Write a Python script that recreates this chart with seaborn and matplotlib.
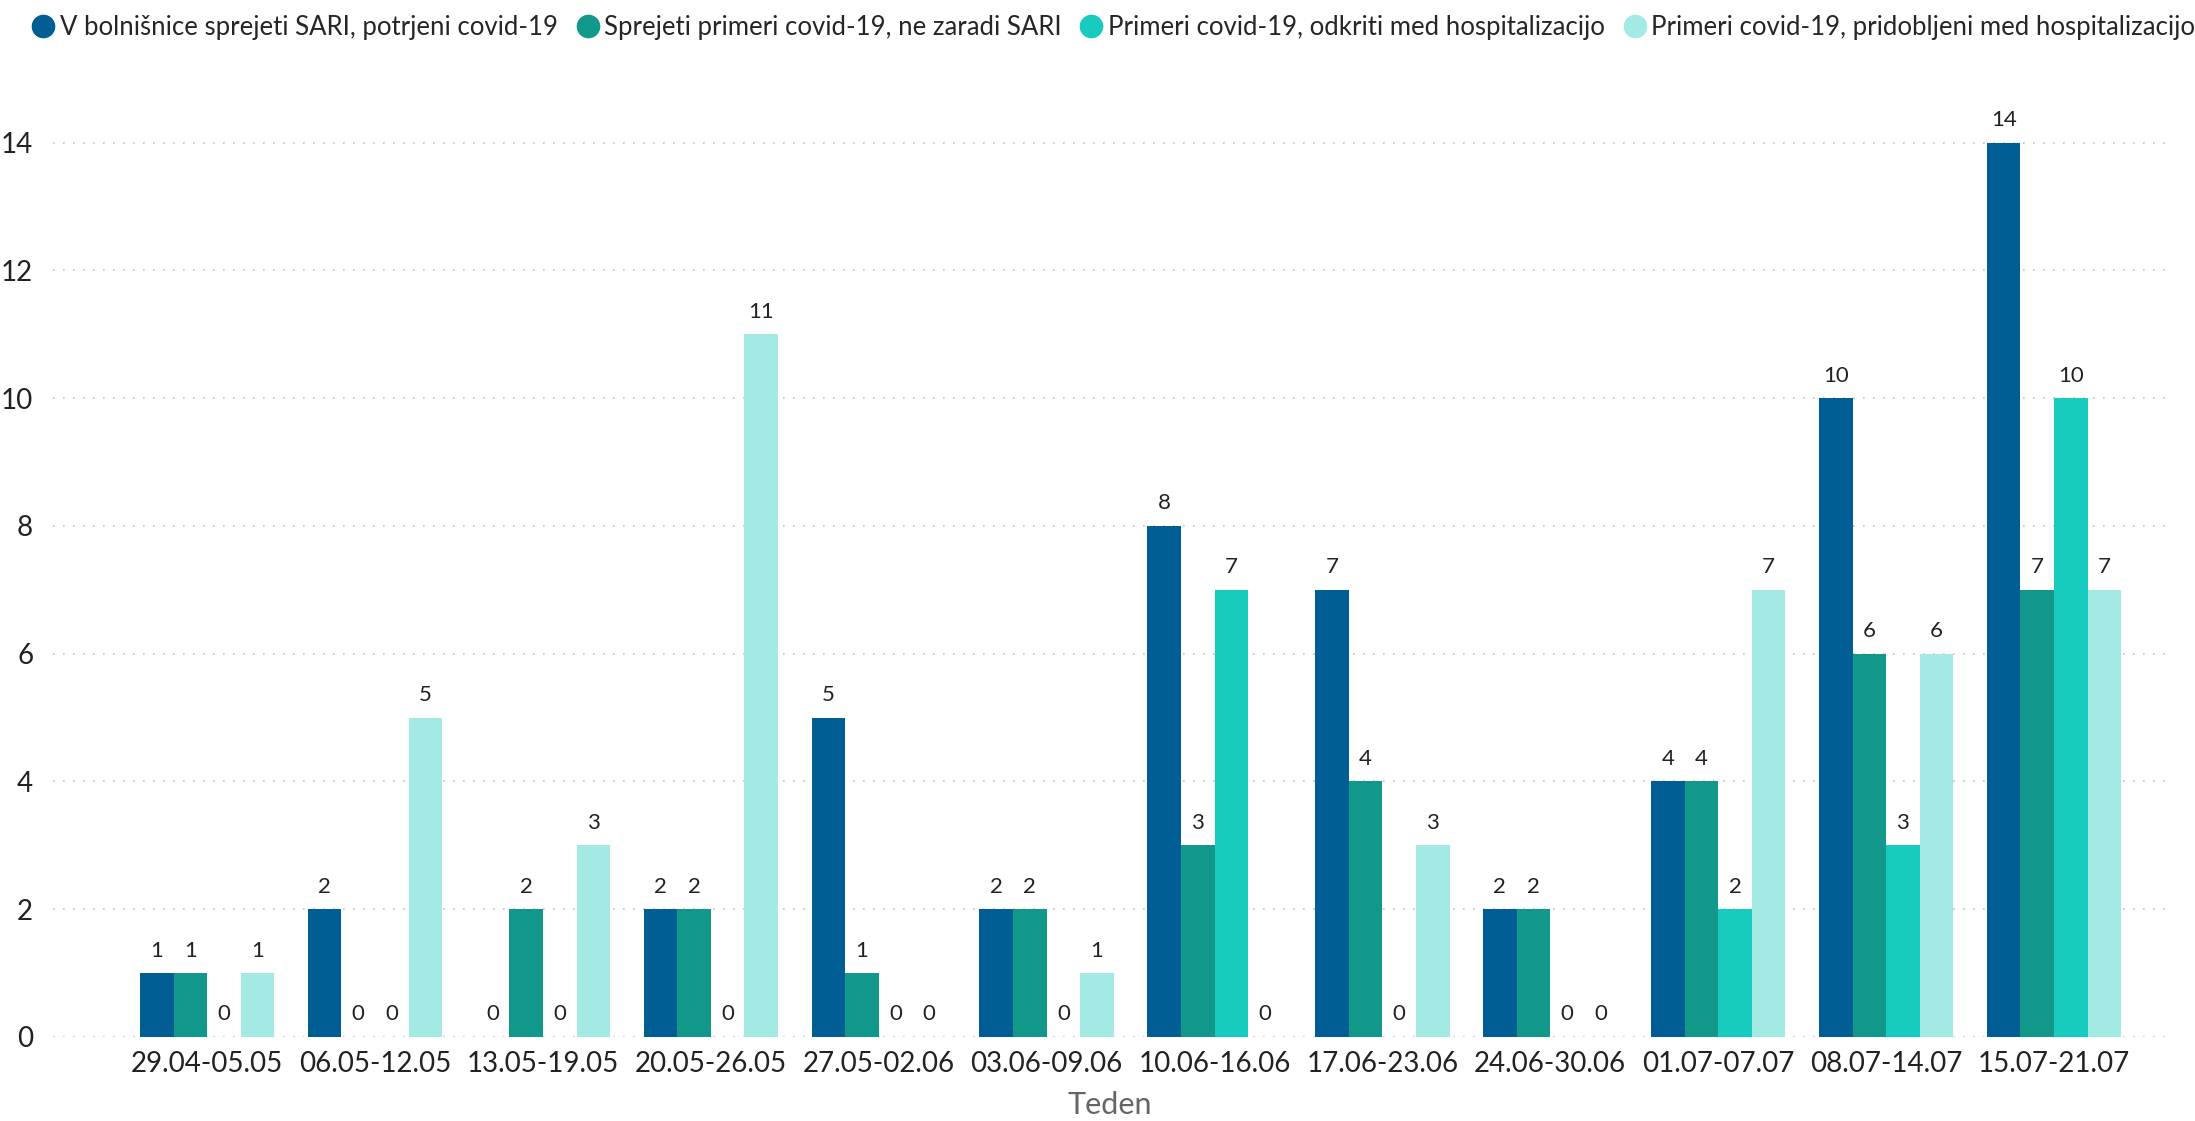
import pandas as pd
import matplotlib.pyplot as plt
import seaborn as sns
from matplotlib.lines import Line2D

# ======================
# data
# ======================
weeks = ['29.04-05.05', '06.05-12.05', '13.05-19.05', '20.05-26.05',
         '27.05-02.06', '03.06-09.06', '10.06-16.06', '17.06-23.06',
         '24.06-30.06', '01.07-07.07', '08.07-14.07', '15.07-21.07']
series_names = ['V bolnišnice sprejeti SARI, potrjeni covid-19',
                'Sprejeti primeri covid-19, ne zaradi SARI',
                'Primeri covid-19, odkriti med hospitalizacijo',
                'Primeri covid-19, pridobljeni med hospitalizacijo']
sari = [1, 2, 0, 2, 5, 2, 8, 7, 2, 4, 10, 14]
ne_sari = [1, 0, 2, 2, 1, 2, 3, 4, 2, 4, 6, 7]
odkriti = [0, 0, 0, 0, 0, 0, 7, 0, 0, 2, 3, 10]
pridobljeni = [1, 5, 3, 11, 0, 1, 0, 3, 0, 7, 6, 7]

colors = ['#005E95', '#12988B', '#17CBBE', '#A3EAE5']

rows = []
for name, vals in zip(series_names, [sari, ne_sari, odkriti, pridobljeni]):
    for w, v in zip(weeks, vals):
        rows.append({'Teden': w, 'serija': name, 'n': v})
df = pd.DataFrame(rows)

# ======================
# plot
# ======================
sns.set_style('white')
plt.rcParams['font.family'] = ['Lato', 'DejaVu Sans']

fig = plt.figure(figsize=(21.95, 11.21), dpi=100)
ax = fig.add_axes([0.024, 0.075, 0.963, 0.832])

sns.barplot(data=df, x='Teden', y='n', hue='serija', hue_order=series_names,
            palette=colors, order=weeks, width=0.8, gap=0, saturation=1,
            linewidth=0, edgecolor='none', ax=ax, legend=False)

for c in ax.containers:
    ax.bar_label(c, fmt='%d', padding=9, fontsize=16, color='#222222')

ax.set_ylim(0, 14.6)
ax.set_xlim(-0.92, 11.67)
ax.set_yticks(range(0, 15, 2))
ax.yaxis.grid(True, linestyle=(0, (1, 5)), color='#c4c4c4', linewidth=1.2)
ax.set_axisbelow(True)
sns.despine(ax=ax, left=True, bottom=True)
ax.tick_params(axis='both', length=0, labelsize=20, colors='#222222')
ax.tick_params(axis='x', pad=10)
ax.tick_params(axis='y', pad=14)
ax.set_ylabel('')
ax.set_xlabel('Teden', fontsize=22, color='#666666', labelpad=10)

handles = [Line2D([0], [0], marker='o', linestyle='', markersize=16,
                  markerfacecolor=c, markeredgecolor=c) for c in colors]
fig.legend(handles, series_names, loc='upper left', bbox_to_anchor=(0.008, 1.0),
           ncol=4, frameon=False, fontsize=18.5, handlelength=0.8,
           handletextpad=0.25, columnspacing=0.75, borderaxespad=0.2)

plt.savefig('out.png', dpi=100)
plt.close()
